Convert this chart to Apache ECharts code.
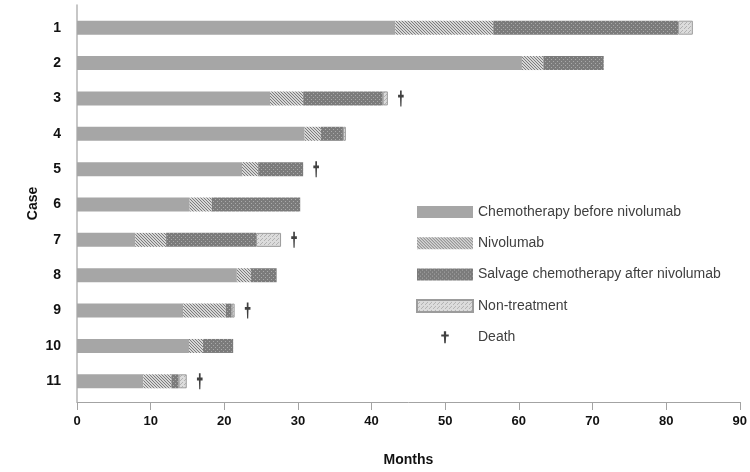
<!DOCTYPE html>
<html>
<head>
<meta charset="utf-8">
<title>Treatment course by case</title>
<script src="https://cdn.jsdelivr.net/npm/echarts@6/dist/echarts.min.js"></script>
<style>
  html, body { margin: 0; padding: 0; background: #fff; }
  #chart { width: 750px; height: 472px; }
</style>
</head>
<body>
<div id="chart"></div>
<script>
// Cases shown top to bottom
const cases = ['1', '2', '3', '4', '5', '6', '7', '8', '9', '10', '11'];

// Duration of each treatment phase per case (months)
const chemoBefore = [43.2, 60.4, 26.2, 30.9, 22.4, 15.3, 7.9, 21.7, 14.4, 15.2, 9.0];
const nivolumab   = [13.3, 2.9, 4.5, 2.2, 2.2, 3.0, 4.2, 1.9, 5.8, 1.9, 3.8];
const salvage     = [25.1, 8.2, 10.8, 3.0, 6.1, 12.0, 12.2, 3.5, 0.8, 4.1, 1.0];
const nonTreat    = [2.0, 0, 0.7, 0.4, 0, 0, 3.4, 0, 0.4, 0, 1.1];

// Cases that ended in death
const deathCases = ['3', '5', '7', '9', '11'];

const seriesNames = [
  'Chemotherapy before nivolumab',
  'Nivolumab',
  'Salvage chemotherapy after nivolumab',
  'Non-treatment',
  'Death'
];

const xTicks = { min: 0, max: 90, interval: 10 };

// Small repeating canvas textures used as bar fills
function pattern(w, h, bg, pixels, fg) {
  const c = document.createElement('canvas');
  c.width = w; c.height = h;
  const g = c.getContext('2d');
  g.fillStyle = bg;
  g.fillRect(0, 0, w, h);
  g.fillStyle = fg;
  pixels.forEach(p => g.fillRect(p[0], p[1], 1, 1));
  return { image: c, repeat: 'repeat' };
}

const fillChemo = '#a6a6a6';
const fillNivo = pattern(3, 3, '#d6d6d6', [[0, 0], [1, 1], [2, 2]], '#7c7c7c');
const fillSalvage = pattern(4, 4, '#7b7b7b', [[1, 1], [3, 3]], '#a9a9a9');
const fillNon = pattern(4, 4, '#dcdcdc', [[0, 0], [2, 2], [1, 3]], '#b2b2b2');

// Bold dagger glyph used for deaths
const daggerPath = 'path://M3.5,0 L6.5,0 L6.5,4.3 L10,4.3 L10,7.2 L6.5,7.2 L6,16 L4,16 L3.5,7.2 L0,7.2 L0,4.3 L3.5,4.3 Z';

const font = '"Liberation Sans", Arial, sans-serif';

const totals = cases.map((_, i) => chemoBefore[i] + nivolumab[i] + salvage[i] + nonTreat[i]);
const nz = arr => arr.map(v => (v > 0 ? v : null));

function barSeries(name, values, color, extra) {
  return Object.assign({
    name: name,
    type: 'bar',
    stack: 'course',
    xAxisIndex: 1,
    yAxisIndex: 1,
    barWidth: 14,
    itemStyle: { color: color },
    emphasis: { disabled: true },
    data: nz(values)
  }, extra || {});
}

const chart = echarts.init(document.getElementById('chart'), null, { renderer: 'canvas' });

chart.setOption({
  animation: false,
  textStyle: { fontFamily: font },
  grid: [
    { left: 77, right: 10, top: 5, bottom: 66 },
    { left: 77, right: 10, top: 10, height: 389 }
  ],
  xAxis: [
    {
      gridIndex: 0,
      type: 'value',
      min: xTicks.min, max: xTicks.max, interval: xTicks.interval,
      axisLine: { show: true, lineStyle: { color: '#a3a3a3', width: 1 } },
      axisTick: { show: true, length: 8, lineStyle: { color: '#a3a3a3' } },
      axisLabel: { color: '#111', fontWeight: 'bold', fontSize: 13, margin: 13, fontFamily: font },
      splitLine: { show: false },
      name: 'Months',
      nameLocation: 'middle',
      nameGap: 51,
      nameTextStyle: { color: '#111', fontWeight: 'bold', fontSize: 14, fontFamily: font }
    },
    {
      gridIndex: 1,
      type: 'value',
      min: xTicks.min, max: xTicks.max,
      show: false
    }
  ],
  yAxis: [
    {
      gridIndex: 0,
      type: 'value',
      min: 0, max: 1,
      axisLine: { show: true, lineStyle: { color: '#b5b5b5', width: 1.5 } },
      axisTick: { show: false },
      axisLabel: { show: false },
      splitLine: { show: false },
      name: 'Case',
      nameLocation: 'middle',
      nameRotate: 90,
      nameGap: 37,
      nameTextStyle: { color: '#111', fontWeight: 'bold', fontSize: 14, fontFamily: font }
    },
    {
      gridIndex: 1,
      type: 'category',
      inverse: true,
      data: cases,
      axisLine: { show: false },
      axisTick: { show: false },
      axisLabel: { color: '#111', fontWeight: 'bold', fontSize: 14, margin: 16, fontFamily: font },
      splitLine: { show: false }
    }
  ],
  legend: {
    orient: 'vertical',
    left: 416,
    top: 204,
    padding: 0,
    itemWidth: 56,
    itemHeight: 12,
    itemGap: 15.3,
    selectedMode: false,
    textStyle: { color: '#404040', fontSize: 14, lineHeight: 16, fontFamily: font },
    data: [
      { name: seriesNames[0], icon: 'rect' },
      { name: seriesNames[1], icon: 'rect' },
      { name: seriesNames[2], icon: 'rect' },
      { name: seriesNames[3], icon: 'rect' },
      { name: seriesNames[4], icon: daggerPath }
    ]
  },
  series: [
    barSeries(seriesNames[0], chemoBefore, fillChemo),
    barSeries(seriesNames[1], nivolumab, fillNivo),
    barSeries(seriesNames[2], salvage, fillSalvage),
    barSeries(seriesNames[3], nonTreat, fillNon, {
      itemStyle: { color: fillNon, borderColor: '#9c9c9c', borderWidth: 1 }
    }),
    {
      name: seriesNames[4],
      type: 'scatter',
      xAxisIndex: 1,
      yAxisIndex: 1,
      symbol: daggerPath,
      symbolSize: [9, 16],
      symbolKeepAspect: true,
      symbolOffset: [13, 0],
      itemStyle: { color: '#111' },
      emphasis: { disabled: true },
      data: deathCases.map(c => [totals[cases.indexOf(c)], c])
    }
  ]
});
</script>
</body>
</html>
